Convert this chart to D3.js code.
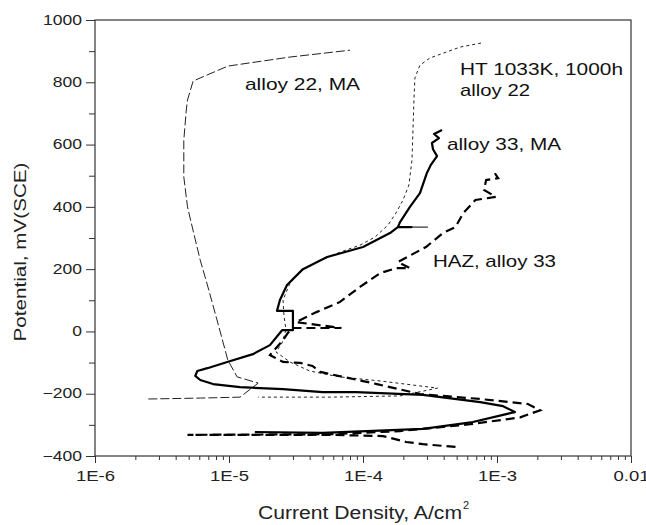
<!DOCTYPE html>
<html>
<head>
<meta charset="utf-8">
<script src="https://cdn.jsdelivr.net/npm/d3@7"></script>
<style>
  body { margin: 0; background: #fff; }
  svg { display: block; font-family: "Liberation Sans", Arial, sans-serif; }
</style>
</head>
<body>
<svg id="chart" width="646" height="525"></svg>
<script>
// values: [current density A/cm2, potential mV]
var alloy22MA = [
  [2.5e-6, -217], [6.1e-6, -214], [1.21e-5, -211], [1.65e-5, -166], [1.15e-5, -146],
  [9.8e-6, -92], [8.1e-6, 40], [6.9e-6, 149], [6.1e-6, 229], [5.4e-6, 323],
  [4.9e-6, 400], [4.6e-6, 496], [4.6e-6, 614], [4.8e-6, 711], [4.9e-6, 743],
  [5.4e-6, 804], [9.8e-6, 852], [2.85e-5, 881], [8.0e-5, 903]
];
var ht1033 = [
  [7.6e-4, 926], [5.3e-4, 913], [3.16e-4, 878], [2.66e-4, 855], [2.44e-4, 814],
  [2.4e-4, 743], [2.36e-4, 647], [2.32e-4, 550], [2.2e-4, 470], [1.99e-4, 422],
  [1.76e-4, 380], [1.54e-4, 342], [1.23e-4, 303], [9.5e-5, 277], [6.7e-5, 254],
  [4.8e-5, 229], [3.56e-5, 197], [2.85e-5, 155], [2.53e-5, 101], [2.57e-5, 53],
  [2.66e-5, 5], [2.49e-5, -37], [2.24e-5, -66], [2.85e-5, -98], [4.0e-5, -127],
  [6.7e-5, -146], [1.34e-4, -159], [3.6e-4, -182], [1.89e-4, -207], [5.7e-5, -211],
  [1.65e-5, -211]
];
var alloy33MA = [
  [1.56e-5, -323], [5.0e-5, -326], [2.8e-4, -313], [6.6e-4, -291], [1.11e-3, -268],
  [1.36e-3, -259], [1.11e-3, -240], [7.5e-4, -227], [2.8e-4, -204], [8.9e-5, -195],
  [5.0e-5, -195], [2.53e-5, -185], [1.21e-5, -179], [7.6e-6, -169], [6.1e-6, -156],
  [5.6e-6, -143], [5.8e-6, -127], [6.9e-6, -118], [9.7e-6, -98], [1.51e-5, -73],
  [2.02e-5, -44], [2.49e-5, 4], [3.0e-5, 4], [3.0e-5, 66], [2.28e-5, 66],
  [2.4e-5, 101], [2.71e-5, 149], [3.56e-5, 200], [5.4e-5, 239], [1.0e-4, 271],
  [1.59e-4, 316], [1.82e-4, 335], [2.3e-4, 335], [1.82e-4, 335], [1.89e-4, 351],
  [2.24e-4, 400], [2.66e-4, 444], [3.0e-4, 509], [3.2e-4, 534], [3.57e-4, 563],
  [3.33e-4, 585], [3.27e-4, 605], [3.69e-4, 621], [3.39e-4, 634], [3.89e-4, 647]
];
// thin end of the spur at 335 mV on the alloy 33 MA curve
var alloy33Spur = [[2.3e-4, 335], [3.05e-4, 335]];
var hazAlloy33 = [
  [4.9e-4, -371], [2.8e-4, -362], [2.1e-4, -355], [1.41e-4, -336], [5.7e-5, -332],
  [1.44e-5, -332], [4.9e-6, -332], [5.7e-5, -330], [1.89e-4, -320], [6.3e-4, -298],
  [1.49e-3, -276], [2.1e-3, -253], [1.7e-3, -233], [7.5e-4, -217], [2.66e-4, -201],
  [1.27e-4, -169], [7.1e-5, -146], [4.8e-5, -130], [4.2e-5, -111], [3.39e-5, -101],
  [2.53e-5, -98], [2.02e-5, -76], [2.28e-5, -50], [2.53e-5, -28], [2.75e-5, -5],
  [2.95e-5, 11], [6.9e-5, 11], [3.16e-5, 30], [4.5e-5, 62],
  [6.7e-5, 94], [9.5e-5, 143], [1.34e-4, 187], [1.76e-4, 203], [2.24e-4, 203],
  [1.82e-4, 223], [2.95e-4, 271], [3.95e-4, 316], [4.9e-4, 335],
  [5.6e-4, 380], [6.9e-4, 422], [9.8e-4, 432], [8.0e-4, 454], [8.3e-4, 486],
  [1.02e-3, 492], [9.3e-4, 518]
];

var xMajor = [1e-6, 1e-5, 1e-4, 1e-3, 1e-2];
var xMajorLabels = ["1E-6", "1E-5", "1E-4", "1E-3", "0.01"];
var yMajor = [-400, -200, 0, 200, 400, 600, 800, 1000];
var yMinor = [-300, -100, 100, 300, 500, 700, 900];

var xTitle = "Current Density, A/cm";
var yTitle = "Potential, mV(SCE)";

(function() {

    var mLeft = 95, mRight = 631, mTop = 20, mBottom = 456;
    var svg = d3.select("#chart");

    var x = d3.scaleLog().domain([1e-6, 1e-2]).range([mLeft, mRight]);
    var y = d3.scaleLinear().domain([-400, 1000]).range([mBottom, mTop]);

    // minor ticks 2..9 in every decade
    var xMinor = [];
    xMajor.slice(0, -1).forEach(function(d) {
        for (var k = 2; k <= 9; k++) xMinor.push(d * k);
    });

    function stretch(sel, k) {
        sel.each(function() {
            var w = this.getComputedTextLength();
            d3.select(this).attr("textLength", w * k).attr("lengthAdjust", "spacingAndGlyphs");
        });
    }

    // x axis
    var gx = svg.append("g").attr("transform", "translate(0," + mBottom + ")");
    gx.append("g").call(d3.axisBottom(x).tickValues(xMinor).tickSize(4).tickFormat(""));
    gx.append("g").call(d3.axisBottom(x).tickValues(xMajor).tickSize(7)
        .tickFormat(function(d, i) { return xMajorLabels[i]; }));
    gx.selectAll(".domain").remove();
    gx.selectAll("line").attr("stroke", "#333");
    gx.selectAll("text").attr("font-size", 14).attr("fill", "#222").attr("dy", 0)
        .attr("y", 25).attr("font-family", "Liberation Sans, Arial, sans-serif")
        .call(stretch, 1.32);

    // y axis
    var gy = svg.append("g").attr("transform", "translate(" + mLeft + ",0)");
    gy.append("g").call(d3.axisLeft(y).tickValues(yMinor).tickSize(6).tickFormat(""));
    gy.append("g").call(d3.axisLeft(y).tickValues(yMajor).tickSize(9).tickFormat(d3.format("d")));
    gy.selectAll(".domain").remove();
    gy.selectAll("line").attr("stroke", "#333");
    gy.selectAll("text").attr("font-size", 14).attr("fill", "#222").attr("x", -13)
        .attr("dy", "0.3em").attr("font-family", "Liberation Sans, Arial, sans-serif")
        .call(stretch, 1.25);

    // frame
    svg.append("rect")
        .attr("x", mLeft).attr("y", mTop)
        .attr("width", mRight - mLeft).attr("height", mBottom - mTop)
        .attr("fill", "none").attr("stroke", "#333").attr("stroke-width", 1.2);

    var line = d3.line()
        .x(function(d) { return x(d[0]); })
        .y(function(d) { return y(d[1]); });

    var plot = svg.append("g");

    plot.append("path").datum(alloy22MA).attr("d", line)
        .attr("fill", "none").attr("stroke", "#222").attr("stroke-width", 1)
        .attr("stroke-dasharray", "9,3");
    plot.append("path").datum(ht1033).attr("d", line)
        .attr("fill", "none").attr("stroke", "#222").attr("stroke-width", 1)
        .attr("stroke-dasharray", "3,3");
    plot.append("path").datum(hazAlloy33).attr("d", line)
        .attr("fill", "none").attr("stroke", "#000").attr("stroke-width", 2.2)
        .attr("stroke-dasharray", "9,5");
    plot.append("path").datum(alloy33MA).attr("d", line)
        .attr("fill", "none").attr("stroke", "#000").attr("stroke-width", 2.2)
        .attr("stroke-linejoin", "round");
    plot.append("path").datum(alloy33Spur).attr("d", line)
        .attr("fill", "none").attr("stroke", "#000").attr("stroke-width", 1);

    // curve labels
    var notes = [
        { t: "alloy 22, MA", x: 245, y: 90, w: 115 },
        { t: "HT 1033K, 1000h", x: 460, y: 75, w: 163 },
        { t: "alloy 22", x: 460, y: 96, w: 70 },
        { t: "alloy 33, MA", x: 447, y: 150, w: 114 },
        { t: "HAZ, alloy 33", x: 433, y: 267, w: 123 }
    ];
    svg.append("g").selectAll("text").data(notes).enter().append("text")
        .attr("x", function(d) { return d.x; })
        .attr("y", function(d) { return d.y; })
        .attr("textLength", function(d) { return d.w; })
        .attr("lengthAdjust", "spacingAndGlyphs")
        .attr("font-size", 17).attr("fill", "#111")
        .text(function(d) { return d.t; });

    // axis titles
    svg.append("text")
        .attr("x", 258).attr("y", 519)
        .attr("font-size", 18).attr("fill", "#222")
        .attr("textLength", 204).attr("lengthAdjust", "spacingAndGlyphs")
        .text(xTitle);
    svg.append("text")
        .attr("x", 463).attr("y", 509)
        .attr("font-size", 11).attr("fill", "#222")
        .text("2");

    svg.append("text")
        .attr("transform", "translate(26,252) rotate(-90)")
        .attr("text-anchor", "middle")
        .attr("font-size", 16).attr("fill", "#222")
        .attr("textLength", 179).attr("lengthAdjust", "spacingAndGlyphs")
        .text(yTitle);

})();
</script>
</body>
</html>
